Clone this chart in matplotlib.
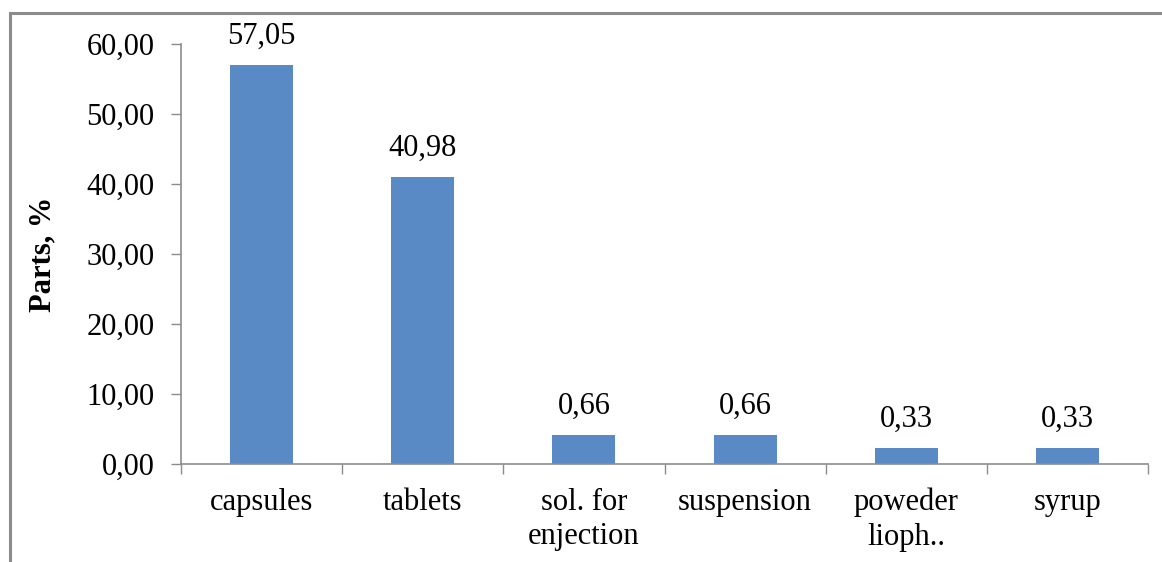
import matplotlib
matplotlib.use('Agg')
import numpy as np
from matplotlib import pyplot as plt
from matplotlib.patches import Rectangle

categories = ['capsules', 'tablets', 'sol. for\nenjection', 'suspension', 'poweder\nlioph..', 'syrup']
# bar heights as drawn in the picture (the small bars are taller than their labels)
heights = [57.05, 40.98, 4.2, 4.2, 2.3, 2.3]
labels = ['57,05', '40,98', '0,66', '0,66', '0,33', '0,33']
yticks = [0, 10, 20, 30, 40, 50, 60]

plt.rcParams['font.family'] = ['Liberation Serif', 'DejaVu Serif']
FS = 22

fig = plt.figure(figsize=(11.62, 5.62), dpi=100)
ax = fig.add_axes([181 / 1162, 1 - 464 / 562, (1148 - 181) / 1162, (464 - 44) / 562])

# outer chart frame (cropped on right and bottom)
fig.patches.append(Rectangle((9.5 / 1162, -0.1), 1.2, 1.1 - 12.5 / 562, transform=fig.transFigure,
                             fill=False, edgecolor='#8c8c8c', linewidth=2.2))

x = np.arange(len(categories))
bars = ax.bar(x, heights, width=0.39, color='#5A8AC6', zorder=2)
for b, lab in zip(bars, labels):
    ax.annotate(lab, (b.get_x() + b.get_width() / 2, b.get_height()), xytext=(0, 10),
                textcoords='offset points', ha='center', va='bottom', fontsize=FS)

ax.set_xlim(-0.5, len(categories) - 0.5)
ax.set_ylim(0, 60)
ax.set_yticks(yticks)
ax.set_yticklabels([f'{v:.2f}'.replace('.', ',') for v in yticks], fontsize=FS)
ax.set_xticks(x)
ax.set_xticklabels(categories, fontsize=FS, linespacing=1.25, va='top')
ax.set_xticks(np.arange(len(categories) + 1) - 0.5, minor=True)
ax.tick_params(axis='x', which='major', length=0, pad=17)
ax.tick_params(axis='x', which='minor', length=7, color='#8c8c8c', width=1)
ax.tick_params(axis='y', length=7, color='#8c8c8c', width=1, pad=12)

for s in ['top', 'right']:
    ax.spines[s].set_visible(False)
for s in ['left', 'bottom']:
    ax.spines[s].set_color('#8c8c8c')
    ax.spines[s].set_linewidth(1.2)

ax.set_ylabel('Parts, %', fontsize=FS, fontweight='bold', labelpad=21)

fig.savefig('out.png', dpi=100)
